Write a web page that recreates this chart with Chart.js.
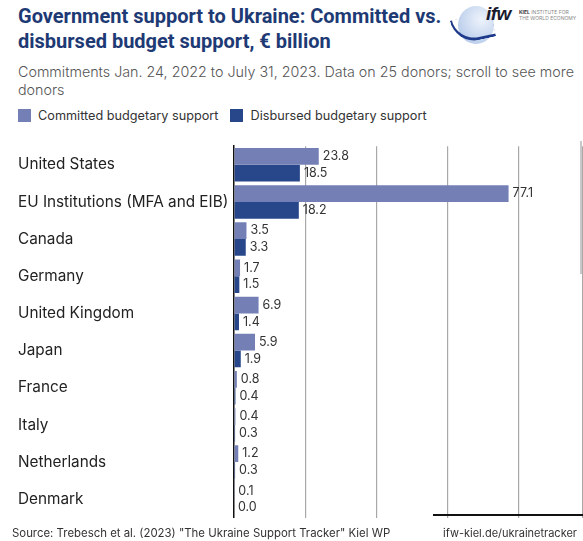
<!DOCTYPE html>
<html>
<head>
<meta charset="utf-8">
<script src="https://cdn.jsdelivr.net/npm/chart.js@4"></script>
<style>
  html, body { margin: 0; padding: 0; background: #fff; }
  body { width: 583px; height: 541px; position: relative; overflow: hidden; font-family: Inter, "Noto Sans", sans-serif; }
  #title { position: absolute; left: 18px; top: 4px; font-family: Roboto, sans-serif; font-weight: 700; font-size: 20px; line-height: 25px; color: #1e3a75; }
  #subtitle { position: absolute; left: 18px; top: 63px; font-weight: 300; font-size: 14.3px; line-height: 17.5px; color: #555; width: 565px; }
  #legend { position: absolute; left: 18px; top: 108px; font-size: 12.7px; color: #333; display: flex; align-items: center; white-space: nowrap; }
  #legend .sw { width: 13px; height: 13px; display: inline-block; margin-right: 7px; }
  #legend .item { display: flex; align-items: center; margin-right: 12px; }
  #chartBox { position: absolute; left: 0; top: 137px; width: 583px; height: 390px; }
  #source { position: absolute; left: 12px; top: 526px; font-size: 11.4px; color: #333; white-space: nowrap; }
  #url { position: absolute; left: 443px; top: 526px; font-size: 11px; color: #333; white-space: nowrap; }
  #rule { position: absolute; left: 433px; top: 514px; width: 150px; height: 1.5px; background: #111; }
  #scroll { position: absolute; left: 580px; top: 141px; width: 2px; height: 133px; background: #c8c8c8; }
  #logo { position: absolute; left: 448px; top: 2px; width: 135px; height: 50px; }
  #logo .globe { position: absolute; left: 10px; top: 4px; width: 36px; height: 38px; border-radius: 50%; background: radial-gradient(circle at 65% 35%, #eef3fb, #a9c1e6); }
  #logo .arc { position: absolute; left: 4px; top: 14px; width: 40px; height: 22px; border-bottom: 3px solid #1e3a8a; border-left: 2px solid #1e3a8a; border-radius: 0 0 0 30px; transform: rotate(-12deg); }
  #logo .ifw { position: absolute; left: 38px; top: 1px; font-family: "Liberation Sans", sans-serif; font-style: italic; font-weight: 700; font-size: 19px; color: #1a1a2e; letter-spacing: -0.5px; }
  #logo .kiel { position: absolute; left: 71px; top: 7px; font-size: 5px; line-height: 6px; color: #888; white-space: nowrap; }
</style>
</head>
<body>
<div id="title">Government support to Ukraine: Committed vs.<br>disbursed budget support, € billion</div>
<div id="subtitle">Commitments Jan. 24, 2022 to July 31, 2023. Data on 25 donors; scroll to see more donors</div>
<div id="legend">
  <span class="item"><span class="sw" style="background:#7480b5"></span>Committed budgetary support</span>
  <span class="item"><span class="sw" style="background:#28478a"></span>Disbursed budgetary support</span>
</div>
<div id="logo">
  <div class="globe"></div>
  <div class="arc"></div>
  <div class="ifw">ifw</div>
  <div class="kiel"><b style="color:#333">KIEL</b> INSTITUTE FOR<br>THE WORLD ECONOMY</div>
</div>
<div id="chartBox"><canvas id="chart"></canvas></div>
<div id="rule"></div>
<div id="scroll"></div>
<div id="source">Source: Trebesch et al. (2023) "The Ukraine Support Tracker" Kiel WP</div>
<div id="url">ifw-kiel.de/ukrainetracker</div>

<script>
'use strict';

// ---------------------------------------------------------------------------
// Data (€ billion)
// ---------------------------------------------------------------------------

const donors = [
  'United States', 'EU Institutions (MFA and EIB)', 'Canada', 'Germany',
  'United Kingdom', 'Japan', 'France', 'Italy', 'Netherlands', 'Denmark',
];
const committed = [23.8, 77.1, 3.5, 1.7, 6.9, 5.9, 0.8, 0.4, 1.2, 0.1];
const disbursed = [18.5, 18.2, 3.3, 1.5, 1.4, 1.9, 0.4, 0.3, 0.3, 0.0];

const COLOR_COMMITTED = '#7480b5';
const COLOR_DISBURSED = '#28478a';

// Value labels just past the end of each bar
const valueLabels = {
  id: 'valueLabels',
  afterDatasetsDraw(chart) {
    const { ctx } = chart;
    ctx.save();
    ctx.font = '12.5px Inter, sans-serif';
    ctx.fillStyle = '#333';
    ctx.textBaseline = 'middle';
    ctx.textAlign = 'left';
    chart.data.datasets.forEach((ds, i) => {
      chart.getDatasetMeta(i).data.forEach((bar, j) => {
        ctx.fillText(ds.data[j].toFixed(1), bar.x + 4, bar.y);
      });
    });
    ctx.restore();
  },
};

new Chart(document.getElementById('chart'), {
  type: 'bar',
  data: {
    labels: donors,
    datasets: [
      { label: 'Committed budgetary support', data: committed, backgroundColor: COLOR_COMMITTED },
      { label: 'Disbursed budgetary support', data: disbursed, backgroundColor: COLOR_DISBURSED },
    ],
  },
  options: {
    indexAxis: 'y',
    responsive: true,
    maintainAspectRatio: false,
    animation: false,
    layout: { padding: { left: 18, right: 0, top: 0, bottom: 0 } },
    datasets: { bar: { categoryPercentage: 0.9, barPercentage: 1.0 } },
    plugins: {
      legend: { display: false },
      title: { display: false },
      tooltip: { enabled: false },
    },
    scales: {
      x: {
        min: 0,
        max: 98,
        ticks: { display: false, stepSize: 20 },
        border: { display: false },
        grid: {
          drawTicks: false,
          color: c => c.tick.value === 0 ? 'rgba(0,0,0,0)' : '#a8a8a8',
          lineWidth: 1.2,
        },
      },
      y: {
        afterFit(scale) { scale.width = 216; },
        ticks: {
          crossAlign: 'far',
          color: '#222',
          font: { family: 'Inter, sans-serif', size: 15.3 },
          padding: 0,
        },
        grid: { display: false, drawTicks: false },
        border: { display: true, color: '#111', width: 1.5 },
      },
    },
  },
  plugins: [valueLabels],
});
</script>
</body>
</html>
